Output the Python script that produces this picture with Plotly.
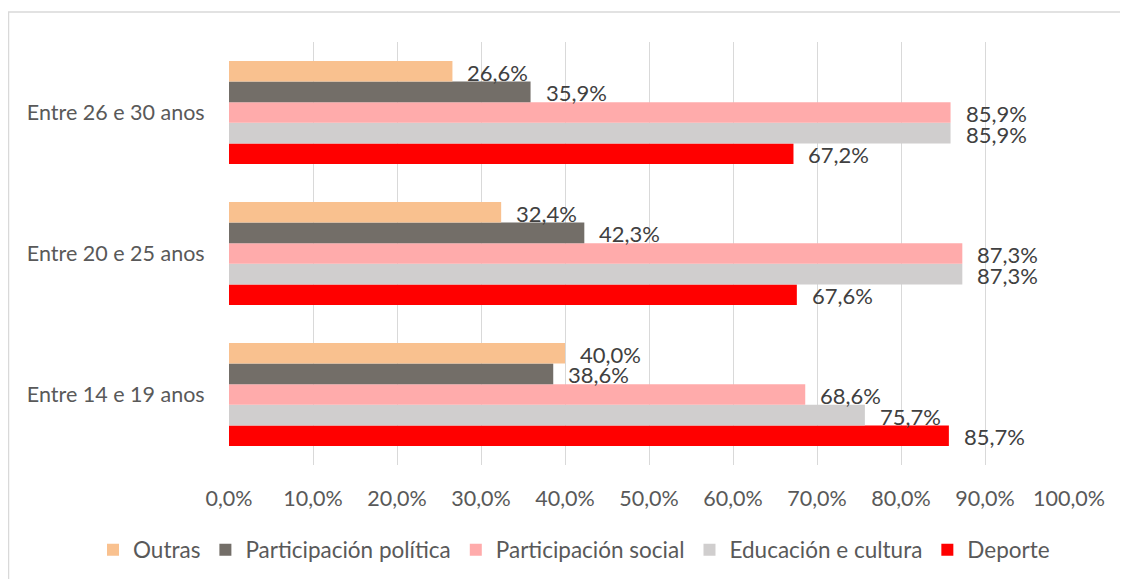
import plotly.graph_objects as go

categories = ["Entre 14 e 19 anos", "Entre 20 e 25 anos", "Entre 26 e 30 anos"]
series_names = ["Deporte", "Educación e cultura", "Participación social",
                "Participación política", "Outras"]
deporte = [85.7, 67.6, 67.2]
educacion = [75.7, 87.3, 85.9]
social = [68.6, 87.3, 85.9]
politica = [38.6, 42.3, 35.9]
outras = [40.0, 32.4, 26.6]
series_values = [deporte, educacion, social, politica, outras]
colors = ["#FF0000", "#D0CECE", "#FFABAB", "#736E68", "#F9C18F"]
x_ticks = [0, 10, 20, 30, 40, 50, 60, 70, 80, 90, 100]

FONT = "Lato"
FS = 21.5
# page body has an 8px default margin; size the figure to fit the window
W, H = 1120, 571
L, R, T, B = 221, 59, 34, 114

fig = go.Figure()
for name, vals, col in zip(series_names, series_values, colors):
    fig.add_trace(go.Bar(
        y=categories, x=vals, name=name, orientation="h",
        marker=dict(color=col, line=dict(width=0)),
    ))

# data labels
bargap = 0.27
n = len(series_names)
bw = (1 - bargap) / n
for j, vals in enumerate(series_values):
    for i, v in enumerate(vals):
        off = -(1 - bargap) / 2 + bw * (j + 0.5)
        fig.add_annotation(
            x=v, y=i + off, xref="x", yref="y",
            text=f"{v:.1f}%".replace(".", ","),
            showarrow=False, xanchor="left", yanchor="middle",
            xshift=13, yshift=-1,
            font=dict(family=FONT, size=22, color="#404040"),
        )

pw = W - L - R
ph = H - T - B
fig.update_layout(
    width=W, height=H,
    margin=dict(l=L, r=R, t=T, b=B, autoexpand=False),
    paper_bgcolor="white", plot_bgcolor="white",
    barmode="group", bargap=bargap, bargroupgap=0,
    font=dict(family=FONT, size=FS, color="#595959"),
    showlegend=True,
    legend=dict(
        orientation="h", traceorder="reversed",
        xref="paper", yref="paper",
        x=(85 - L) / pw, xanchor="left",
        y=-(542 - (H - B)) / ph, yanchor="middle",
        font=dict(family=FONT, size=22.5, color="#595959"),
        itemwidth=30, bgcolor="rgba(0,0,0,0)",
    ),
    xaxis=dict(
        range=[0, 100], tickvals=x_ticks,
        ticktext=[f"{t:.1f}%".replace(".", ",") for t in x_ticks],
        showgrid=True, gridcolor="#D9D9D9", gridwidth=1,
        zeroline=False, showline=False,
        ticks="outside", ticklen=14, tickcolor="rgba(0,0,0,0)",
        tickfont=dict(family=FONT, size=FS, color="#595959"),
        fixedrange=True,
    ),
    yaxis=dict(
        categoryorder="array", categoryarray=categories,
        showgrid=False, zeroline=False, showline=False,
        ticks="outside", ticklen=19, tickcolor="rgba(0,0,0,0)",
        tickfont=dict(family=FONT, size=FS, color="#595959"),
        fixedrange=True,
    ),
    shapes=[
        dict(type="line", xref="paper", yref="paper",
             x0=(0 - L) / pw, x1=(W + 20 - L) / pw,
             y0=1 + (T - 4) / ph, y1=1 + (T - 4) / ph,
             line=dict(color="#D9D9D9", width=1.5)),
        dict(type="line", xref="paper", yref="paper",
             x0=(0.5 - L) / pw, x1=(0.5 - L) / pw,
             y0=1 + (T - 4) / ph, y1=-(B + 20) / ph,
             line=dict(color="#D9D9D9", width=1.5)),
    ],
)

fig.write_html("out.html")
